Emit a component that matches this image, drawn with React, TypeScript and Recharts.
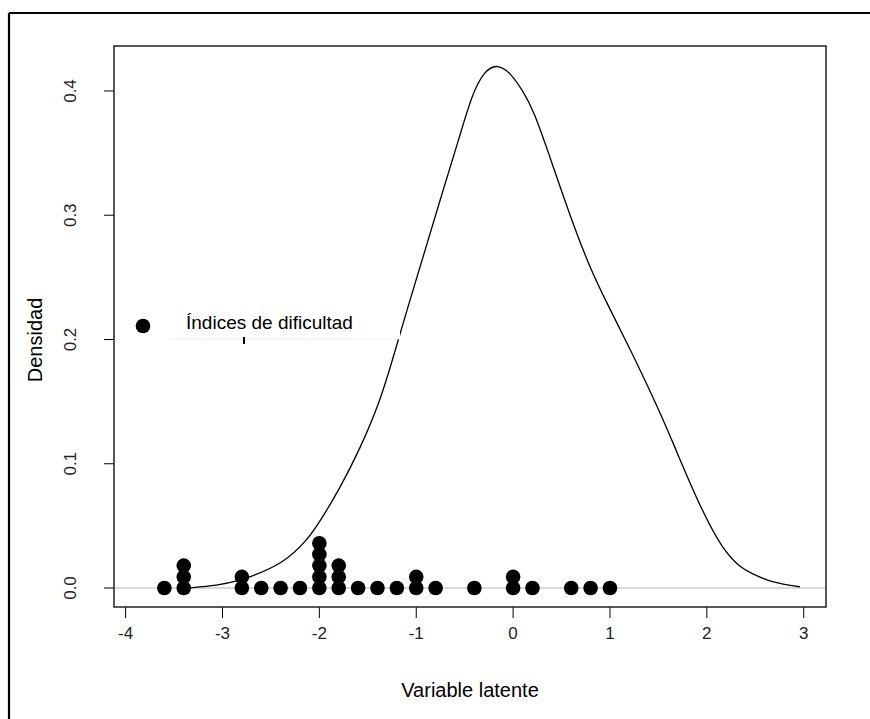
import { ComposedChart, Line, Scatter, XAxis, YAxis, ReferenceLine } from 'recharts';

// density curve
const curve = [
  { x: -3.36, y: 0.0 },
  { x: -3.05, y: 0.002 },
  { x: -2.82, y: 0.006 },
  { x: -2.71, y: 0.009 },
  { x: -2.37, y: 0.02 },
  { x: -2.13, y: 0.038 },
  { x: -1.99, y: 0.054 },
  { x: -1.79, y: 0.08 },
  { x: -1.58, y: 0.112 },
  { x: -1.37, y: 0.151 },
  { x: -1.24, y: 0.185 },
  { x: -1.08, y: 0.228 },
  { x: -0.9, y: 0.274 },
  { x: -0.72, y: 0.321 },
  { x: -0.55, y: 0.364 },
  { x: -0.42, y: 0.398 },
  { x: -0.3, y: 0.416 },
  { x: -0.16, y: 0.422 },
  { x: -0.02, y: 0.414 },
  { x: 0.1, y: 0.4 },
  { x: 0.21, y: 0.385 },
  { x: 0.41, y: 0.34 },
  { x: 0.59, y: 0.299 },
  { x: 0.79, y: 0.258 },
  { x: 0.97, y: 0.229 },
  { x: 1.21, y: 0.192 },
  { x: 1.49, y: 0.146 },
  { x: 1.65, y: 0.117 },
  { x: 1.93, y: 0.065 },
  { x: 2.17, y: 0.03 },
  { x: 2.34, y: 0.017 },
  { x: 2.45, y: 0.012 },
  { x: 2.68, y: 0.004 },
  { x: 2.96, y: 0.001 },
];

// difficulty indices, stacked
const dots = [
  { x: -3.6, y: 0 },
  { x: -3.4, y: 0 }, { x: -3.4, y: 0.009 }, { x: -3.4, y: 0.018 },
  { x: -2.8, y: 0 }, { x: -2.8, y: 0.009 },
  { x: -2.6, y: 0 },
  { x: -2.4, y: 0 },
  { x: -2.2, y: 0 },
  { x: -2.0, y: 0 }, { x: -2.0, y: 0.009 }, { x: -2.0, y: 0.018 }, { x: -2.0, y: 0.027 }, { x: -2.0, y: 0.036 },
  { x: -1.8, y: 0 }, { x: -1.8, y: 0.009 }, { x: -1.8, y: 0.018 },
  { x: -1.6, y: 0 },
  { x: -1.4, y: 0 },
  { x: -1.2, y: 0 },
  { x: -1.0, y: 0 }, { x: -1.0, y: 0.009 },
  { x: -0.8, y: 0 },
  { x: -0.4, y: 0 },
  { x: 0.0, y: 0 }, { x: 0.0, y: 0.009 },
  { x: 0.2, y: 0 },
  { x: 0.6, y: 0 },
  { x: 0.8, y: 0 },
  { x: 1.0, y: 0 },
];

const xTicks = [-4, -3, -2, -1, 0, 1, 2, 3];
const yTicks = [0, 0.1, 0.2, 0.3, 0.4];

const FONT = '"Liberation Sans", Arial, sans-serif';

const XTick = (props: any) => (
  <text x={props.x} y={639} textAnchor="middle" fontSize={17} fontFamily={FONT} fill="#222">
    {props.payload.value}
  </text>
);

const YTick = (props: any) => (
  <text
    x={76}
    y={props.y}
    transform={`rotate(-90 76 ${props.y})`}
    textAnchor="middle"
    fontSize={17}
    fontFamily={FONT}
    fill="#222"
  >
    {props.payload.value.toFixed(1)}
  </text>
);

const Dot = (props: any) => <circle cx={props.cx} cy={props.cy} r={7.3} fill="#000" />;

export default function App() {
  return (
    <div style={{ position: 'absolute', left: 0, top: 0, width: 870, height: 719, background: '#fff' }}>
      <ComposedChart width={870} height={719} margin={{ top: 46, right: 44, bottom: 0, left: 0 }}>
        <XAxis
          type="number"
          dataKey="x"
          domain={[-4.12, 3.23]}
          ticks={xTicks}
          allowDataOverflow
          axisLine={false}
          tickLine={{ stroke: '#000' }}
          tickSize={11}
          height={112}
          tick={XTick}
        />
        <YAxis
          type="number"
          domain={[-0.0153, 0.4362]}
          ticks={yTicks}
          allowDataOverflow
          axisLine={false}
          tickLine={{ stroke: '#000' }}
          tickSize={10}
          width={114}
          tick={YTick}
        />
        <ReferenceLine y={0} stroke="#b4b4b4" strokeWidth={1.2} />
        <Line
          data={curve}
          dataKey="y"
          type="basis"
          stroke="#000"
          strokeWidth={1.3}
          dot={false}
          isAnimationActive={false}
        />
        <Scatter data={dots} dataKey="y" shape={Dot} isAnimationActive={false} />
      </ComposedChart>
      <svg width={870} height={719} style={{ position: 'absolute', left: 0, top: 0, pointerEvents: 'none' }}>
        <line x1={9} y1={13} x2={870} y2={13} stroke="#000" strokeWidth={2.2} />
        <line x1={9} y1={13} x2={9} y2={719} stroke="#000" strokeWidth={2.2} />
        <rect x={114} y={46} width={712} height={561} fill="none" stroke="#222" strokeWidth={1.5} />
        <rect x={170} y={303} width={230} height={36} fill="#fff" />
        <line x1={170} y1={339} x2={400} y2={339} stroke="#e4e4e4" strokeWidth={1} strokeDasharray="2 2" />
        <line x1={244} y1={337} x2={244} y2={344} stroke="#000" strokeWidth={2} />
        <circle cx={143} cy={326} r={7.3} fill="#000" />
        <text x={186} y={329} fontSize={19} fontFamily={FONT} fill="#000">
          Índices de dificultad
        </text>
        <text x={470} y={697} textAnchor="middle" fontSize={20} fontFamily={FONT} fill="#000">
          Variable latente
        </text>
        <text
          x={42}
          y={340}
          transform="rotate(-90 42 340)"
          textAnchor="middle"
          fontSize={20}
          fontFamily={FONT}
          fill="#000"
        >
          Densidad
        </text>
      </svg>
    </div>
  );
}
